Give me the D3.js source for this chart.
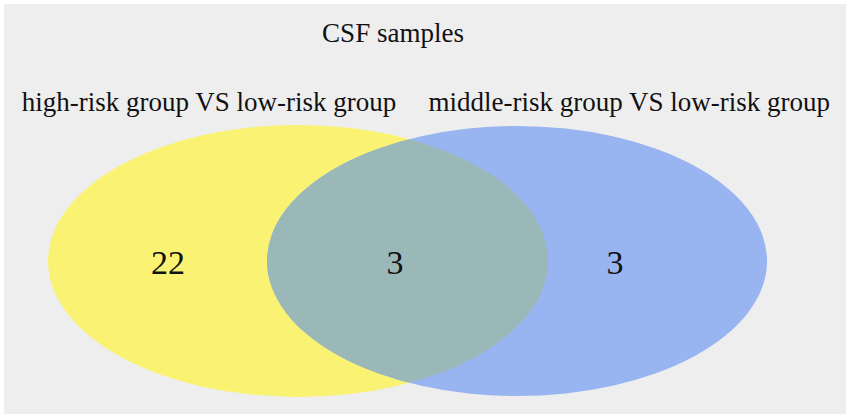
<!DOCTYPE html>
<html>
<head>
  <meta charset="utf-8">
  <style>
    body { margin: 0; background: #ffffff; }
    .lbl { font-family: "Liberation Serif", "Times New Roman", serif; fill: #111111; }
  </style>
</head>
<body>
  <div id="chart"></div>
  <script src="https://d3js.org/d3.v7.min.js"></script>
  <script>
    var title = 'CSF samples';
    var setNames = ['high-risk group VS low-risk group', 'middle-risk group VS low-risk group'];
    var regionNames = ['onlyHigh', 'both', 'onlyMiddle'];
    var regionCounts = [22, 3, 3];

    var width = 850, height = 419;
    var colors = { high: '#f9f273', middle: '#98b5f1', both: '#9bb8b8' };

    // unit layout space -> pixels
    var x = d3.scaleLinear().domain([0, 1]).range([4, 846]);
    var y = d3.scaleLinear().domain([0, 1]).range([4, 414]);

    var ellipses = [
      { cx: 0.3492, cy: 0.6268, rx: 250, ry: 136, fill: colors.high },
      { cx: 0.6093, cy: 0.6268, rx: 250, ry: 135, fill: colors.middle }
    ];
    var setLabelX = [0.2435, 0.7425];
    var countX = [0.1948, 0.4644, 0.7257];

    var svg = d3.select('#chart').append('svg')
      .attr('width', width)
      .attr('height', height);

    svg.append('rect')
      .attr('x', x(0)).attr('y', y(0))
      .attr('width', x(1) - x(0)).attr('height', y(1) - y(0))
      .attr('fill', '#eeeeee');

    svg.append('defs').append('clipPath').attr('id', 'clipHigh')
      .append('ellipse')
      .attr('cx', x(ellipses[0].cx)).attr('cy', y(ellipses[0].cy))
      .attr('rx', ellipses[0].rx).attr('ry', ellipses[0].ry);

    svg.selectAll('ellipse.set')
      .data(ellipses)
      .enter()
      .append('ellipse')
      .attr('class', 'set')
      .attr('cx', function (d) { return x(d.cx); })
      .attr('cy', function (d) { return y(d.cy); })
      .attr('rx', function (d) { return d.rx; })
      .attr('ry', function (d) { return d.ry; })
      .attr('fill', function (d) { return d.fill; });

    // overlap region
    svg.append('ellipse')
      .attr('cx', x(ellipses[1].cx)).attr('cy', y(ellipses[1].cy))
      .attr('rx', ellipses[1].rx).attr('ry', ellipses[1].ry)
      .attr('clip-path', 'url(#clipHigh)')
      .attr('fill', colors.both);

    svg.append('text')
      .attr('class', 'lbl')
      .attr('x', x(0.4620)).attr('y', 42)
      .attr('text-anchor', 'middle')
      .style('font-size', '27px')
      .text(title);

    svg.selectAll('text.setname')
      .data(setNames)
      .enter()
      .append('text')
      .attr('class', 'lbl setname')
      .attr('x', function (d, i) { return x(setLabelX[i]); })
      .attr('y', 111)
      .attr('text-anchor', 'middle')
      .style('font-size', '27px')
      .text(function (d) { return d; });

    svg.selectAll('text.count')
      .data(regionCounts)
      .enter()
      .append('text')
      .attr('class', 'lbl count')
      .attr('x', function (d, i) { return x(countX[i]); })
      .attr('y', 274)
      .attr('text-anchor', 'middle')
      .style('font-size', '34px')
      .text(function (d) { return d; });
  </script>
</body>
</html>
